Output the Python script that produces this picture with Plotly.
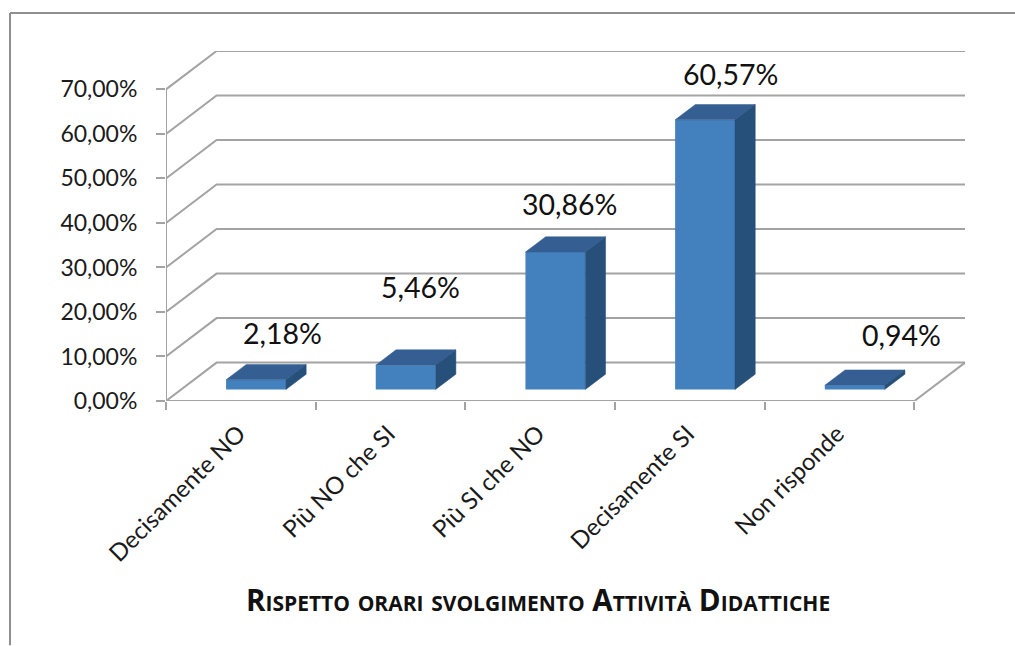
import plotly.graph_objects as go

# ---- data ----
categories = ["Decisamente NO", "Più NO che SI", "Più SI che NO", "Decisamente SI", "Non risponde"]
values = [2.18, 5.46, 30.86, 60.57, 0.94]
value_labels = ["2,18%", "5,46%", "30,86%", "60,57%", "0,94%"]
y_ticks = [0, 10, 20, 30, 40, 50, 60, 70]
y_tick_labels = ["0,00%", "10,00%", "20,00%", "30,00%", "40,00%", "50,00%", "60,00%", "70,00%"]
title_text = "Rispetto orari svolgimento Attività Didattiche"
# manual nudges of the data labels from the back-top corner of each bar (pixels)
label_shift_x = [6, -5, -6, 5, 27]
label_shift_y = [31, 63, 33, 30, 35]

# ---- pseudo-3D projection, in axis units ----
W, H = 1015, 646
PL, PR, PT, PB = 166, 965, 51, 401.5
X_UNIT = 149.4          # px per category
Y_UNIT = 4.454          # px per percent
WALL_DX = 50.5 / X_UNIT  # depth of the floor, as axis offset
WALL_DY = 38.4 / Y_UNIT
BAR_W = 0.40
D0, D1 = 0.30, 0.70      # bars occupy this slice of the depth
LABEL_NUDGE = 0.015      # category labels sit just left of the category centre
n = len(categories)
xmin, xmax = -0.5, n - 0.5
LINE = "#A3A3A3"
FRONT, TOP, SIDE = "#4281BD", "#355F92", "#264F7A"
FONT = "Lato"
TEXT = "#1a1a1a"

fig = go.Figure()

# walls / gridlines
for v in y_ticks:
    fig.add_trace(go.Scatter(
        x=[xmin, xmin + WALL_DX, xmax + WALL_DX],
        y=[v, v + WALL_DY, v + WALL_DY],
        mode="lines", line=dict(color=LINE, width=2), zorder=0,
        cliponaxis=False, hoverinfo="skip", showlegend=False))
# y-axis and x-axis lines
fig.add_trace(go.Scatter(x=[xmin, xmin], y=[y_ticks[0], y_ticks[-1]], mode="lines",
                         line=dict(color=LINE, width=2), zorder=0, cliponaxis=False,
                         hoverinfo="skip", showlegend=False))
fig.add_trace(go.Scatter(x=[xmin, xmax], y=[0, 0], mode="lines",
                         line=dict(color=LINE, width=2), zorder=0, cliponaxis=False,
                         hoverinfo="skip", showlegend=False))

# bar fronts
front_x = [i + D0 * WALL_DX for i in range(n)]
front_base = [D0 * WALL_DY] * n
fig.add_trace(go.Bar(x=front_x, y=values, base=front_base, width=BAR_W,
                     marker=dict(color=FRONT, line=dict(width=0)), zorder=1,
                     hoverinfo="skip", showlegend=False))

# bar tops and sides
depth_x = (D1 - D0) * WALL_DX
depth_y = (D1 - D0) * WALL_DY
for fx, b, v in zip(front_x, front_base, values):
    l, r, bot, top = fx - BAR_W / 2, fx + BAR_W / 2, b, b + v
    fig.add_trace(go.Scatter(
        x=[l, r, r + depth_x, l + depth_x, l],
        y=[top, top, top + depth_y, top + depth_y, top],
        mode="lines", fill="toself", fillcolor=TOP, line=dict(width=0.5, color=TOP),
        zorder=2, hoverinfo="skip", showlegend=False))
    fig.add_trace(go.Scatter(
        x=[r, r + depth_x, r + depth_x, r, r],
        y=[bot, bot + depth_y, top + depth_y, top, bot],
        mode="lines", fill="toself", fillcolor=SIDE, line=dict(width=0.5, color=SIDE),
        zorder=2, hoverinfo="skip", showlegend=False))

# floor right edge, on the boundary-tick axis
fig.add_trace(go.Scatter(x=[xmax, xmax + WALL_DX], y=[0, WALL_DY], mode="lines",
                         xaxis="x2", line=dict(color=LINE, width=2), cliponaxis=False,
                         hoverinfo="skip", showlegend=False))

def px(x):
    return (x - PL) / (PR - PL)
def py(y):
    return (PB - y) / (PB - PT)

# data labels
annotations = []
for fx, b, v, t, sx, sy in zip(front_x, front_base, values, value_labels, label_shift_x, label_shift_y):
    annotations.append(dict(
        x=fx + depth_x, y=b + v + depth_y, xref="x", yref="y", text=t, showarrow=False,
        xshift=sx, yshift=sy, xanchor="center", yanchor="middle",
        font=dict(family=FONT, size=28.5, color="#111111")))
# axis title, centred under the front edge of the floor
annotations.append(dict(
    x=(xmin + xmax) / 2, y=py(600), xref="x", yref="paper", xshift=-2, text=title_text,
    showarrow=False, xanchor="center", yanchor="middle",
    font=dict(family="Open Sans", size=29.5, color="#111111", weight="bold", variant="small-caps")))

shapes = [
    dict(type="line", xref="paper", yref="paper", x0=px(10), x1=px(10), y0=py(13), y1=py(646),
         line=dict(color="#8F8F8F", width=2), layer="below"),
    dict(type="line", xref="paper", yref="paper", x0=px(10), x1=px(1015), y0=py(13), y1=py(13),
         line=dict(color="#8F8F8F", width=2), layer="below"),
]

fig.update_layout(
    width=W, height=H,
    margin=dict(l=PL, r=W - PR, t=PT, b=H - PB, autoexpand=False),
    paper_bgcolor="white", plot_bgcolor="rgba(0,0,0,0)",
    barmode="overlay",
    showlegend=False,
    annotations=annotations,
    shapes=shapes,
    font=dict(family=FONT, color=TEXT),
    xaxis=dict(
        range=[xmin, xmax + WALL_DX], tickmode="array",
        tickvals=[i - LABEL_NUDGE for i in range(n)], ticktext=categories, tickangle=-45,
        ticks="", ticklabelstandoff=13, showgrid=False, zeroline=False, showline=False,
        tickfont=dict(family=FONT, size=24, color=TEXT),
    ),
    xaxis2=dict(
        range=[xmin, xmax + WALL_DX], overlaying="x", anchor="y", side="bottom",
        tickmode="array", tickvals=[xmin + i for i in range(n + 1)],
        ticks="outside", ticklen=8, tickwidth=2, tickcolor=LINE,
        showticklabels=False, showgrid=False, zeroline=False, showline=False,
    ),
    yaxis=dict(
        range=[0, y_ticks[-1] + WALL_DY], tickmode="array", tickvals=y_ticks,
        ticktext=y_tick_labels, ticklabelstandoff=14,
        ticks="outside", ticklen=9, tickwidth=2, tickcolor=LINE,
        showgrid=False, zeroline=False, showline=False,
        tickfont=dict(family=FONT, size=23, color=TEXT),
    ),
)

fig.write_html("out.html", config=dict(displayModeBar=False),
               post_script="document.body.style.margin='0';")
